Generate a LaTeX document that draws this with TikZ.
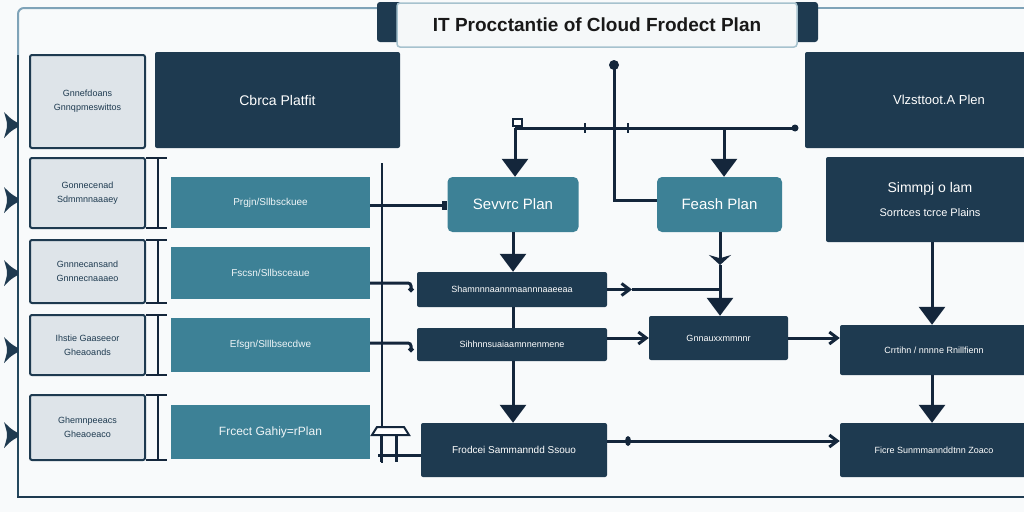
\documentclass[tikz,border=0pt]{standalone}
\usepackage{fontspec}
\setmainfont{Liberation Sans}
\usetikzlibrary{arrows.meta,calc}
\definecolor{navy}{HTML}{1E3A50}
\definecolor{teal}{HTML}{3D8196}
\definecolor{lightbox}{HTML}{DEE4E9}
\definecolor{line}{HTML}{14263B}
\definecolor{frametop}{HTML}{7FA3B8}
\definecolor{bg}{HTML}{F8FAFB}
\tikzset{
  darkbox/.style={draw=none, fill=navy, rounded corners=2pt, text=white, align=center, inner sep=0pt},
  tealbox/.style={draw=none, fill=teal, text=white!92!teal, align=center, inner sep=0pt, font=\fontsize{10}{12}\selectfont},
  tealround/.style={draw=none, fill=teal, rounded corners=5pt, text=white, align=center, inner sep=0pt, font=\fontsize{15}{18}\selectfont},
  lbox/.style={draw=navy, line width=2pt, fill=lightbox, rounded corners=2pt, text=navy, align=center, inner sep=0pt, font=\fontsize{9}{14}\selectfont},
  conn/.style={draw=line, line width=3pt},
  bigtip/.style={-{Triangle[width=26pt,length=18pt]}},
  barb/.style={-{Straight Barb[width=12pt,length=8pt,line width=3pt]}},
}
\begin{document}
\begin{tikzpicture}[x=1pt,y=-1pt]
\useasboundingbox (0,0) rectangle (1024,512);
\fill[bg] (0,0) rectangle (1024,512);
% frame
\draw[frametop, line width=2pt, rounded corners=6pt] (380,8) -- (18,8) -- (18,60);
\draw[navy!80!teal, line width=2pt] (18,55) -- (18,497);
\draw[navy, line width=2.2pt] (17,497) -- (1024,497);
\draw[frametop, line width=2pt] (816,8) -- (1024,8);
% title banner
\node[fill=navy, rounded corners=3pt, minimum width=24pt, minimum height=40pt, inner sep=0pt] (tabl) at (389,22) {};
\node[fill=navy, rounded corners=3pt, minimum width=24pt, minimum height=40pt, inner sep=0pt] (tabr) at (806,22) {};
\node[fill=white!92!frametop, draw=frametop!70!teal!60, line width=1.5pt, rounded corners=3pt, minimum width=400pt, minimum height=44pt, inner sep=0pt, font=\bfseries\fontsize{19}{23}\selectfont, text=black!90] (title) at (597,25) {IT Procctantie of Cloud Frodect Plan};
% left triangles
\foreach \yy in {125,200,273,350,435}
  \fill[navy] (4,\yy-13) .. controls (11,\yy-6) .. (18,\yy-2) -- (18,\yy+2) .. controls (11,\yy+6) .. (4,\yy+13) .. controls (8,\yy) .. cycle;
% left boxes
\node[lbox, minimum width=115pt, minimum height=93pt] (L1) at (87.5,101.5) {Gnnefdoans\\Gnnqpmeswittos};
\node[lbox, minimum width=115pt, minimum height=70pt] (L2) at (87.5,193) {Gonnecenad\\Sdmmnnaaaey};
\node[lbox, minimum width=115pt, minimum height=63pt] (L3) at (87.5,271.5) {Gnnnecansand\\Gnnnecnaaaeo};
\node[lbox, minimum width=115pt, minimum height=60pt] (L4) at (87.5,345) {Ihstie Gaaseeor\\Gheaoands};
\node[lbox, minimum width=115pt, minimum height=65pt] (L5) at (87.5,427.5) {Ghemnpeeacs\\Gheaoeaco};
% brackets
\foreach \n in {L2,L3,L4,L5}
  \draw[line, line width=2.5pt] ($(\n.north east)+(0,1)$) -- ++(21,0) ($(\n.north east)+(12,1)$) -- ($(\n.south east)+(12,-1)$) ($(\n.south east)+(0,-1)$) -- ++(21,0);
% dark box top-left
\node[darkbox, minimum width=245pt, minimum height=96pt, font=\fontsize{14}{17}\selectfont] (cp) at (277.5,100) {Cbrca Platfit};
% teal boxes
\node[tealbox, minimum width=199pt, minimum height=51pt] (T1) at (270.5,202.5) {Prgjn/Sllbsckuee};
\node[tealbox, minimum width=199pt, minimum height=52pt] (T2) at (270.5,273) {Fscsn/Sllbsceaue};
\node[tealbox, minimum width=199pt, minimum height=54pt] (T3) at (270.5,345) {Efsgn/Slllbsecdwe};
\node[tealbox, minimum width=199pt, minimum height=54pt, font=\fontsize{12}{14}\selectfont] (T4) at (270.5,432) {Frcect Gahiy=rPlan};
% middle
\node[tealround, minimum width=131pt, minimum height=55pt] (SP) at (513,204.5) {Sevvrc Plan};
\node[tealround, minimum width=125pt, minimum height=55pt] (FP) at (719.5,204.5) {Feash Plan};
\node[darkbox, minimum width=190pt, minimum height=35pt, font=\fontsize{9}{11}\selectfont] (D1) at (512,289.5) {Shamnnnaannmaannnaaeeaa};
\node[darkbox, minimum width=190pt, minimum height=33pt, font=\fontsize{9}{11}\selectfont] (D2) at (512,344.5) {Sihhnnsuaiaamnnenmene};
\node[darkbox, minimum width=139pt, minimum height=44pt, font=\fontsize{9}{11}\selectfont] (D3) at (718.5,338) {Gnnauxxmmnnr};
\node[darkbox, minimum width=186pt, minimum height=54pt, font=\fontsize{10}{12}\selectfont] (D7) at (514,450) {Frodcei Sammanndd Ssouo};
% right
\node[darkbox, minimum width=268pt, minimum height=96pt, font=\fontsize{13}{16}\selectfont] (D5) at (939,100) {Vlzsttoot.A Plen};
\node[darkbox, minimum width=208pt, minimum height=85pt, font=\fontsize{14}{28}\selectfont] (D4) at (930,199.5) {Simmpj o lam\\[-4pt]{\fontsize{11}{13}\selectfont Sorrtces tcrce Plains}};
\node[darkbox, minimum width=188pt, minimum height=50pt, font=\fontsize{9}{11}\selectfont] (D6) at (934,350) {Crrtihn / nnnne Rnillfienn};
\node[darkbox, minimum width=188pt, minimum height=54pt, font=\fontsize{9}{11}\selectfont] (D8) at (934,450) {Ficre Sunmmannddtnn Zoaco};
% bus on left
\coordinate (busTop) at (382,163);
\coordinate (busBot) at (382,463);
\draw[conn, line width=2.5pt] (busTop) -- (busBot);
\draw[conn, -{Square[length=5pt,width=9pt]}] (T1.east |- 0,205) -- (SP.west |- 0,205);
\draw[conn, -{Circle[length=5pt]}, rounded corners=3pt] (T2.east |- 0,283) -- (411,283) -- (411,292);
\draw[conn, -{Circle[length=5pt]}, rounded corners=3pt] (T3.east |- 0,343) -- (411,343) -- (411,352);
\draw[line, line width=2pt, fill=white] (372,435) -- (377,427) -- (404,427) -- (409,435) -- cycle;
\draw[conn] (381,435) -- (381,462) (396,435) -- (396,462);
\draw[conn] (378,455) -- (D7.west |- 0,455);
% top connections
\coordinate (dotTop) at (614,65);
\fill[line] (dotTop) circle (5pt);
\draw[conn] (dotTop) -- (614,200) -- (FP.west |- 0,200);
\coordinate (hL) at (515,128);
\coordinate (hR) at (795,128);
\draw[conn] (hL) -- (hR);
\fill[line] (hR) circle (3.5pt);
\draw[line, line width=1.5pt, fill=white] (513,119) rectangle (522,126);
\draw[line, line width=2pt] (585,123) -- (585,133) (628,123) -- (628,133);
\draw[conn, bigtip] (hL) -- (SP.north -| hL);
\draw[conn, bigtip] (724,128) -- (FP.north -| 724,0);
% vertical flows
\draw[conn, bigtip] (SP.south -| 513,0) -- (D1.north -| 513,0);
\draw[conn] (D1.south -| 513,0) -- (D2.north -| 513,0);
\draw[conn, bigtip] (D2.south -| 513,0) -- (D7.north -| 513,0);
\coordinate (fmid) at (720,265);
\draw[conn, -{Stealth[width=22pt,length=10pt]}] (FP.south -| 720,0) -- (fmid);
\draw[conn, bigtip] (fmid) -- (D3.north -| 720,0);
\draw[conn, barb] (D1.east) -- (632,289.5);
\draw[conn] (632,289.5) -- (720,289.5);
\draw[conn, barb] (D2.east |- 0,338) -- (D3.west);
\draw[conn, barb] (D3.east) -- (D6.west |- D3.east);
\draw[conn, bigtip] (D4.south -| 932,0) -- (D6.north -| 932,0);
\draw[conn, bigtip] (D6.south -| 932,0) -- (D8.north -| 932,0);
\draw[conn, barb] (D7.east |- 0,441) -- (D8.west |- 0,441);
\fill[line] (628,441) ellipse (3pt and 5pt);
\end{tikzpicture}
\end{document}
